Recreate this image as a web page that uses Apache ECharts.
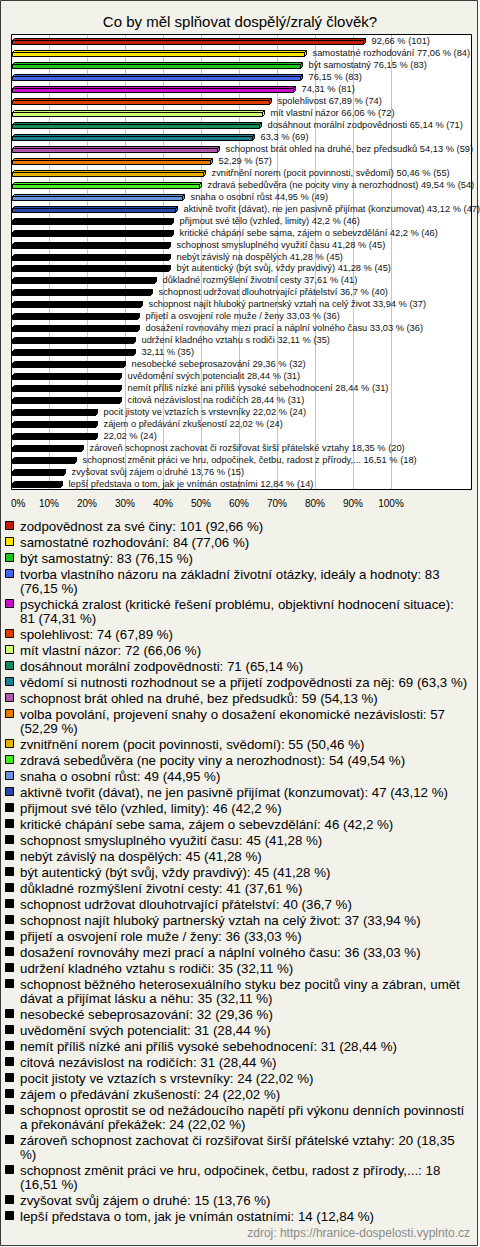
<!DOCTYPE html>
<html>
<head>
<meta charset="utf-8">
<script src="https://cdn.jsdelivr.net/npm/echarts@6/dist/echarts.min.js"></script>
<style>
  html, body { margin: 0; padding: 0; background: #ffffff; }
  #chart { width: 480px; height: 1247px; }
</style>
</head>
<body>
<div id="chart"></div>
<script>
const title = 'Co by měl splňovat dospělý/zralý člověk?';
const source = 'zdroj: https://hranice-dospelosti.vyplnto.cz';

const categories = [
  'zodpovědnost za své činy',
  'samostatné rozhodování',
  'být samostatný',
  'tvorba vlastního názoru na základní životní otázky, ideály a hodnoty',
  'psychická zralost (kritické řešení problému, objektivní hodnocení situace)',
  'spolehlivost',
  'mít vlastní názor',
  'dosáhnout morální zodpovědnosti',
  'vědomí si nutnosti rozhodnout se a přijetí zodpovědnosti za něj',
  'schopnost brát ohled na druhé, bez předsudků',
  'volba povolání, projevení snahy o dosažení ekonomické nezávislosti',
  'zvnitřnění norem (pocit povinnosti, svědomí)',
  'zdravá sebedůvěra (ne pocity viny a nerozhodnost)',
  'snaha o osobní růst',
  'aktivně tvořit (dávat), ne jen pasivně přijímat (konzumovat)',
  'přijmout své tělo (vzhled, limity)',
  'kritické chápání sebe sama, zájem o sebevzdělání',
  'schopnost smysluplného využití času',
  'nebýt závislý na dospělých',
  'být autentický (být svůj, vždy pravdivý)',
  'důkladné rozmýšlení životní cesty',
  'schopnost udržovat dlouhotrvající přátelství',
  'schopnost najít hluboký partnerský vztah na celý život',
  'přijetí a osvojení role muže / ženy',
  'dosažení rovnováhy mezi prací a náplní volného času',
  'udržení kladného vztahu s rodiči',
  'schopnost běžného heterosexuálního styku bez pocitů viny a zábran, umět dávat a přijímat lásku a něhu',
  'nesobecké sebeprosazování',
  'uvědomění svých potencialit',
  'nemít příliš nízké ani příliš vysoké sebehodnocení',
  'citová nezávislost na rodičích',
  'pocit jistoty ve vztazích s vrstevníky',
  'zájem o předávání zkušeností',
  'schopnost oprostit se od nežádoucího napětí při výkonu denních povinností a překonávání překážek',
  'zároveň schopnost zachovat či rozšiřovat širší přátelské vztahy',
  'schopnost změnit práci ve hru, odpočinek, četbu, radost z přírody,...',
  'zvyšovat svůj zájem o druhé',
  'lepší představa o tom, jak je vnímán ostatními'
];

const counts = [101, 84, 83, 83, 81, 74, 72, 71, 69, 59, 57, 55, 54, 49, 47, 46, 46, 45, 45, 45,
  41, 40, 37, 36, 36, 35, 35, 32, 31, 31, 31, 24, 24, 24, 20, 18, 15, 14];

const percents = [92.66, 77.06, 76.15, 76.15, 74.31, 67.89, 66.06, 65.14, 63.3, 54.13, 52.29, 50.46,
  49.54, 44.95, 43.12, 42.2, 42.2, 41.28, 41.28, 41.28, 37.61, 36.7, 33.94, 33.03, 33.03, 32.11,
  32.11, 29.36, 28.44, 28.44, 28.44, 22.02, 22.02, 22.02, 18.35, 16.51, 13.76, 12.84];

// whether the bar label repeats the category name (long names are left out on the bar)
const nameOnBar = [false, true, true, false, false, true, true, true, false, true, false, true,
  true, true, true, true, true, true, true, true, true, true, true, true, true, true,
  false, true, true, true, true, true, true, false, true, true, true, true];

const axisTicks = [0, 10, 20, 30, 40, 50, 60, 70, 80, 90, 100];

// legend entries that wrap onto a second line: item index -> number of words kept on line 1
const legendWrapWords = { 3: 11, 4: 8, 10: 9, 26: 10, 33: 10, 34: 10, 35: 11 };

const palette = ['#c41e0c', '#ffe600', '#1ec41e', '#4466ee', '#c810c8', '#e03c00', '#ccff77',
  '#168a58', '#1a7f92', '#b058b0', '#e87800', '#e6b000', '#44ee22', '#6892dc', '#2848a8'];
const colorOf = i => (i < palette.length ? palette[i] : '#000000');

const fmt = v => String(v).replace('.', ',');
const FONT = '"Liberation Sans", Arial, sans-serif';

const legendEls = [];
let ly = 526;
categories.forEach((name, i) => {
  const txt = name + ': ' + counts[i] + ' (' + fmt(percents[i]) + ' %)';
  let lines = [txt];
  if (legendWrapWords[i] !== undefined) {
    const w = txt.split(' ');
    const n = legendWrapWords[i];
    lines = [w.slice(0, n).join(' '), w.slice(n).join(' ')];
  }
  legendEls.push({
    type: 'rect',
    shape: { x: 5.5, y: Math.round(ly) - 4.5, width: 8, height: 8 },
    style: { fill: colorOf(i), stroke: '#000', lineWidth: 1 },
    z: 10
  });
  legendEls.push({
    type: 'text',
    x: 20, y: ly - 7,
    style: {
      text: lines.join('\n'), fontSize: 13.3, fontFamily: FONT, fill: '#000',
      lineHeight: 14, verticalAlign: 'top', align: 'left'
    },
    z: 10
  });
  ly += 16 + (lines.length - 1) * 14;
});

const chart = echarts.init(document.getElementById('chart'), null, { renderer: 'svg' });

const option = {
  animation: false,
  backgroundColor: '#ffffff',
  grid: { left: 11, right: 89, top: 34, bottom: 758, containLabel: false, outerBoundsMode: 'none' },
  xAxis: {
    type: 'value', min: 0, max: 100, interval: 10,
    axisLine: { show: false }, axisTick: { show: false },
    splitLine: { show: true, lineStyle: { color: '#c4c4c4', width: 1 } },
    axisLabel: {
      formatter: v => (axisTicks.indexOf(v) >= 0 ? v + '%' : ''),
      fontSize: 10, fontFamily: FONT, color: '#000', margin: 9, alignMinLabel: 'left'
    }
  },
  yAxis: {
    type: 'category', inverse: true, data: categories,
    axisLine: { show: false }, axisTick: { show: false }, axisLabel: { show: false },
    splitLine: { show: false }
  },
  series: [{
    type: 'custom',
    clip: false,
    encode: { x: 0, y: 1 },
    data: percents.map((p, i) => [p, i]),
    renderItem: function (params, api) {
      const idx = params.dataIndex;
      const v = api.value(0);
      const end = api.coord([v, api.value(1)]);
      const start = api.coord([0, api.value(1)]);
      const c = Math.round(end[1]);
      const d = 2, h = 4;
      const x0 = Math.round(start[0]) + 1.5;
      const x1 = Math.round(end[0]) + 0.5;
      const yT = c + 0.5, yB = c + h + 0.5;
      const col = colorOf(idx);
      const st = { fill: col, stroke: '#000', lineWidth: 1 };
      const label = (nameOnBar[idx] ? categories[idx] + ' ' : '') + fmt(percents[idx]) + ' % (' + counts[idx] + ')';
      return {
        type: 'group',
        children: [
          { type: 'polygon', shape: { points: [[x0, yT], [x0 + d, yT - d], [x1 + d, yT - d], [x1, yT]] }, style: st },
          { type: 'polygon', shape: { points: [[x1, yT], [x1 + d, yT - d], [x1 + d, yB - d], [x1, yB]] }, style: st },
          { type: 'rect', shape: { x: x0, y: yT, width: x1 - x0, height: h }, style: st },
          { type: 'text', x: x1 + d + 6, y: c + 1,
            style: { text: label, fontSize: 9.3, fontFamily: FONT, fill: '#111', verticalAlign: 'middle', align: 'left' } }
        ]
      };
    }
  }],
  graphic: {
    elements: [
      { type: 'rect', shape: { x: 0.5, y: 0.5, width: 477, height: 1245 },
        style: { fill: '#f3f2ea', stroke: '#3a3a3a', lineWidth: 1 }, z: -100 },
      { type: 'rect', shape: { x: 11.5, y: 34.5, width: 460, height: 455 },
        style: { fill: '#ffffff', stroke: null }, z: -90 },
      { type: 'rect', shape: { x: 11.5, y: 34.5, width: 460, height: 455 },
        style: { fill: null, stroke: '#000', lineWidth: 1 }, z: 50 },
      { type: 'text', x: 240, y: 21,
        style: { text: title, fontSize: 15, fontFamily: FONT, fill: '#000', align: 'center', verticalAlign: 'middle' }, z: 10 },
      { type: 'text', x: 470, y: 1233,
        style: { text: source, fontSize: 12, fontFamily: FONT, fill: '#8a8a8a', align: 'right', verticalAlign: 'middle' }, z: 10 }
    ].concat(legendEls)
  }
};

chart.setOption(option);
</script>
</body>
</html>
